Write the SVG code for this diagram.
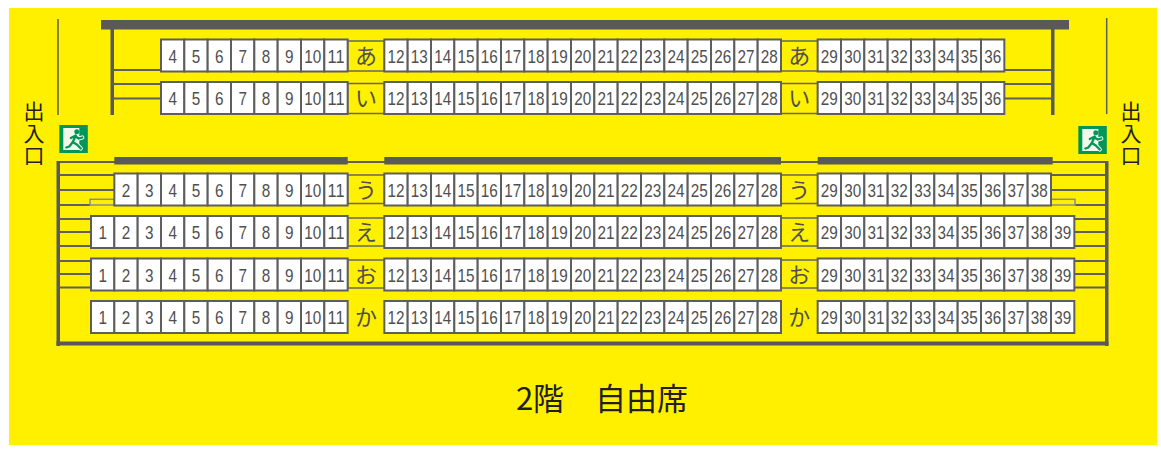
<svg xmlns="http://www.w3.org/2000/svg" xmlns:xlink="http://www.w3.org/1999/xlink" width="1161" height="450" viewBox="0 0 1161 450">
<defs>
<style>
.n{font-family:"Liberation Sans",Arial,sans-serif;font-size:19px;fill:#4f4f4f;text-anchor:middle}
.k{font-family:"Noto Sans CJK JP",sans-serif;font-size:22px;fill:#505050;text-anchor:middle}
.lb{fill:#fff100;stroke:#666;stroke-width:1.5}
.ln{stroke:#5e5e5e;stroke-width:2;fill:none}
.tl{stroke:#5e5e5e;stroke-width:1.5;fill:none}
.bar{fill:#595959}
.gb{fill:none;stroke:#8c8c8c;stroke-width:1.5}
.ex{font-family:"Noto Sans CJK JP",sans-serif;font-size:21px;fill:#231f20;writing-mode:vertical-rl;letter-spacing:1px}
.title{font-family:"Noto Sans CJK JP",sans-serif;font-size:31px;fill:#231f20;text-anchor:middle}
</style>
<rect id="st" width="23.33" height="32" fill="#fff" stroke="#5e5e5e" stroke-width="2"/>
<g id="exit">
<rect width="28.5" height="28" fill="#00965a"/>
<rect x="4" y="3" width="16" height="22" fill="#f2f9ea"/>
<g stroke="#f2f9ea" stroke-width="4.2" fill="none" stroke-linecap="round" stroke-linejoin="round">
<path d="M16.5 10.5 L13.5 17 L10 21.5 L7 22.5 M13.5 17 L17.5 19.5 L21.5 23.5 M11.5 13 L15.5 11 L19.5 13.5 L23 12.5"/>
</g>
<g stroke="#00965a" stroke-width="2.3" fill="none" stroke-linecap="round" stroke-linejoin="round">
<path d="M16.5 10.5 L13.5 17 L10 21.5 L7 22.5 M13.5 17 L17.5 19.5 L21.5 23.5 M11.5 13 L15.5 11 L19.5 13.5 L23 12.5"/>
</g>
<circle cx="17.5" cy="6.8" r="2.5" fill="#00965a"/>
</g>
</defs>

<rect x="9" y="8" width="1148" height="437" fill="#fff000"/>

<g id="structure">
<!-- upper section -->
<rect class="bar" x="101" y="20" width="968" height="9.5"/>
<rect class="bar" x="110.5" y="29" width="3.5" height="86"/>
<rect class="bar" x="1051" y="29" width="3.5" height="86"/>
<path class="ln" d="M112 70 H161 M112 84 H161 M112 98.5 H161 M1004.3 70 H1052.7 M1004.3 84 H1052.7 M1004.3 98.5 H1052.7"/>
<path class="tl" d="M58 19 V115 M1106.7 18 V114"/>
<!-- lower section frame -->
<path class="ln" d="M58 162 H1106.7"/>
<rect class="bar" x="56.5" y="161" width="3.5" height="185"/>
<rect class="bar" x="1105" y="161" width="3.5" height="185"/>
<rect class="bar" x="56.5" y="341.5" width="1052" height="4"/>
<rect class="bar" x="114.3" y="157" width="233.4" height="7.5"/>
<rect class="bar" x="384.3" y="157" width="396.7" height="7.5"/>
<rect class="bar" x="817.7" y="157" width="235" height="7.5"/>
<path class="ln" d="M58 175 H114.3 M58 190 H114.3 M58 205 H90 M58 219 H91 M58 232 H91 M58 246 H91 M58 261 H91 M58 274 H91 M58 287.5 H91"/>
<path class="ln" d="M1051 175 H1106.7 M1051 190 H1106.7 M1075 205 H1106.7 M1074.3 219 H1106.7 M1074.3 232 H1106.7 M1074.3 246 H1106.7 M1074.3 261 H1106.7 M1074.3 274 H1106.7 M1074.3 287.5 H1106.7"/>
<rect class="gb" x="90" y="199.3" width="24.3" height="5.7"/>
<rect class="gb" x="1051" y="199.3" width="24" height="5.7"/>
</g>

<g id="entrance-left">
<use xlink:href="#exit" href="#exit" x="59.3" y="125"/>
<text class="ex" x="34" y="101">出入口</text>
</g>
<g id="entrance-right">
<use xlink:href="#exit" href="#exit" x="1078.3" y="126"/>
<text class="ex" x="1131" y="101">出入口</text>
</g>

<g id="row-a">
<rect class="lb" x="347.67" y="41" width="36.67" height="30"/>
<rect class="lb" x="781" y="41" width="36.67" height="30"/>
<text class="k" x="366" y="63.5">あ</text>
<text class="k" x="799.33" y="63.5">あ</text>
<use href="#st" x="161" y="39.5"/><use href="#st" x="184.33" y="39.5"/><use href="#st" x="207.67" y="39.5"/><use href="#st" x="231" y="39.5"/><use href="#st" x="254.33" y="39.5"/><use href="#st" x="277.67" y="39.5"/><use href="#st" x="301" y="39.5"/><use href="#st" x="324.33" y="39.5"/>
<use href="#st" x="384.33" y="39.5"/><use href="#st" x="407.67" y="39.5"/><use href="#st" x="431" y="39.5"/><use href="#st" x="454.33" y="39.5"/><use href="#st" x="477.67" y="39.5"/><use href="#st" x="501" y="39.5"/><use href="#st" x="524.33" y="39.5"/><use href="#st" x="547.67" y="39.5"/><use href="#st" x="571" y="39.5"/><use href="#st" x="594.33" y="39.5"/><use href="#st" x="617.67" y="39.5"/><use href="#st" x="641" y="39.5"/><use href="#st" x="664.33" y="39.5"/><use href="#st" x="687.67" y="39.5"/><use href="#st" x="711" y="39.5"/><use href="#st" x="734.33" y="39.5"/><use href="#st" x="757.67" y="39.5"/>
<use href="#st" x="817.67" y="39.5"/><use href="#st" x="841" y="39.5"/><use href="#st" x="864.33" y="39.5"/><use href="#st" x="887.67" y="39.5"/><use href="#st" x="911" y="39.5"/><use href="#st" x="934.33" y="39.5"/><use href="#st" x="957.67" y="39.5"/><use href="#st" x="981" y="39.5"/>
<text class="n" x="172.67" y="62.5" textLength="8.5" lengthAdjust="spacingAndGlyphs">4</text>
<text class="n" x="196" y="62.5" textLength="8.5" lengthAdjust="spacingAndGlyphs">5</text>
<text class="n" x="219.33" y="62.5" textLength="8.5" lengthAdjust="spacingAndGlyphs">6</text>
<text class="n" x="242.67" y="62.5" textLength="8.5" lengthAdjust="spacingAndGlyphs">7</text>
<text class="n" x="266" y="62.5" textLength="8.5" lengthAdjust="spacingAndGlyphs">8</text>
<text class="n" x="289.33" y="62.5" textLength="8.5" lengthAdjust="spacingAndGlyphs">9</text>
<text class="n" x="312.67" y="62.5" textLength="17" lengthAdjust="spacingAndGlyphs">10</text>
<text class="n" x="336" y="62.5" textLength="17" lengthAdjust="spacingAndGlyphs">11</text>
<text class="n" x="396" y="62.5" textLength="17" lengthAdjust="spacingAndGlyphs">12</text>
<text class="n" x="419.33" y="62.5" textLength="17" lengthAdjust="spacingAndGlyphs">13</text>
<text class="n" x="442.67" y="62.5" textLength="17" lengthAdjust="spacingAndGlyphs">14</text>
<text class="n" x="466" y="62.5" textLength="17" lengthAdjust="spacingAndGlyphs">15</text>
<text class="n" x="489.33" y="62.5" textLength="17" lengthAdjust="spacingAndGlyphs">16</text>
<text class="n" x="512.67" y="62.5" textLength="17" lengthAdjust="spacingAndGlyphs">17</text>
<text class="n" x="536" y="62.5" textLength="17" lengthAdjust="spacingAndGlyphs">18</text>
<text class="n" x="559.33" y="62.5" textLength="17" lengthAdjust="spacingAndGlyphs">19</text>
<text class="n" x="582.67" y="62.5" textLength="17" lengthAdjust="spacingAndGlyphs">20</text>
<text class="n" x="606" y="62.5" textLength="17" lengthAdjust="spacingAndGlyphs">21</text>
<text class="n" x="629.33" y="62.5" textLength="17" lengthAdjust="spacingAndGlyphs">22</text>
<text class="n" x="652.67" y="62.5" textLength="17" lengthAdjust="spacingAndGlyphs">23</text>
<text class="n" x="676" y="62.5" textLength="17" lengthAdjust="spacingAndGlyphs">24</text>
<text class="n" x="699.33" y="62.5" textLength="17" lengthAdjust="spacingAndGlyphs">25</text>
<text class="n" x="722.67" y="62.5" textLength="17" lengthAdjust="spacingAndGlyphs">26</text>
<text class="n" x="746" y="62.5" textLength="17" lengthAdjust="spacingAndGlyphs">27</text>
<text class="n" x="769.33" y="62.5" textLength="17" lengthAdjust="spacingAndGlyphs">28</text>
<text class="n" x="829.33" y="62.5" textLength="17" lengthAdjust="spacingAndGlyphs">29</text>
<text class="n" x="852.67" y="62.5" textLength="17" lengthAdjust="spacingAndGlyphs">30</text>
<text class="n" x="876" y="62.5" textLength="17" lengthAdjust="spacingAndGlyphs">31</text>
<text class="n" x="899.33" y="62.5" textLength="17" lengthAdjust="spacingAndGlyphs">32</text>
<text class="n" x="922.67" y="62.5" textLength="17" lengthAdjust="spacingAndGlyphs">33</text>
<text class="n" x="946" y="62.5" textLength="17" lengthAdjust="spacingAndGlyphs">34</text>
<text class="n" x="969.33" y="62.5" textLength="17" lengthAdjust="spacingAndGlyphs">35</text>
<text class="n" x="992.67" y="62.5" textLength="17" lengthAdjust="spacingAndGlyphs">36</text>
</g>

<g id="row-i">
<rect class="lb" x="347.67" y="83.5" width="36.67" height="30"/>
<rect class="lb" x="781" y="83.5" width="36.67" height="30"/>
<text class="k" x="366" y="106">い</text>
<text class="k" x="799.33" y="106">い</text>
<use href="#st" x="161" y="82"/><use href="#st" x="184.33" y="82"/><use href="#st" x="207.67" y="82"/><use href="#st" x="231" y="82"/><use href="#st" x="254.33" y="82"/><use href="#st" x="277.67" y="82"/><use href="#st" x="301" y="82"/><use href="#st" x="324.33" y="82"/>
<use href="#st" x="384.33" y="82"/><use href="#st" x="407.67" y="82"/><use href="#st" x="431" y="82"/><use href="#st" x="454.33" y="82"/><use href="#st" x="477.67" y="82"/><use href="#st" x="501" y="82"/><use href="#st" x="524.33" y="82"/><use href="#st" x="547.67" y="82"/><use href="#st" x="571" y="82"/><use href="#st" x="594.33" y="82"/><use href="#st" x="617.67" y="82"/><use href="#st" x="641" y="82"/><use href="#st" x="664.33" y="82"/><use href="#st" x="687.67" y="82"/><use href="#st" x="711" y="82"/><use href="#st" x="734.33" y="82"/><use href="#st" x="757.67" y="82"/>
<use href="#st" x="817.67" y="82"/><use href="#st" x="841" y="82"/><use href="#st" x="864.33" y="82"/><use href="#st" x="887.67" y="82"/><use href="#st" x="911" y="82"/><use href="#st" x="934.33" y="82"/><use href="#st" x="957.67" y="82"/><use href="#st" x="981" y="82"/>
<text class="n" x="172.67" y="105" textLength="8.5" lengthAdjust="spacingAndGlyphs">4</text>
<text class="n" x="196" y="105" textLength="8.5" lengthAdjust="spacingAndGlyphs">5</text>
<text class="n" x="219.33" y="105" textLength="8.5" lengthAdjust="spacingAndGlyphs">6</text>
<text class="n" x="242.67" y="105" textLength="8.5" lengthAdjust="spacingAndGlyphs">7</text>
<text class="n" x="266" y="105" textLength="8.5" lengthAdjust="spacingAndGlyphs">8</text>
<text class="n" x="289.33" y="105" textLength="8.5" lengthAdjust="spacingAndGlyphs">9</text>
<text class="n" x="312.67" y="105" textLength="17" lengthAdjust="spacingAndGlyphs">10</text>
<text class="n" x="336" y="105" textLength="17" lengthAdjust="spacingAndGlyphs">11</text>
<text class="n" x="396" y="105" textLength="17" lengthAdjust="spacingAndGlyphs">12</text>
<text class="n" x="419.33" y="105" textLength="17" lengthAdjust="spacingAndGlyphs">13</text>
<text class="n" x="442.67" y="105" textLength="17" lengthAdjust="spacingAndGlyphs">14</text>
<text class="n" x="466" y="105" textLength="17" lengthAdjust="spacingAndGlyphs">15</text>
<text class="n" x="489.33" y="105" textLength="17" lengthAdjust="spacingAndGlyphs">16</text>
<text class="n" x="512.67" y="105" textLength="17" lengthAdjust="spacingAndGlyphs">17</text>
<text class="n" x="536" y="105" textLength="17" lengthAdjust="spacingAndGlyphs">18</text>
<text class="n" x="559.33" y="105" textLength="17" lengthAdjust="spacingAndGlyphs">19</text>
<text class="n" x="582.67" y="105" textLength="17" lengthAdjust="spacingAndGlyphs">20</text>
<text class="n" x="606" y="105" textLength="17" lengthAdjust="spacingAndGlyphs">21</text>
<text class="n" x="629.33" y="105" textLength="17" lengthAdjust="spacingAndGlyphs">22</text>
<text class="n" x="652.67" y="105" textLength="17" lengthAdjust="spacingAndGlyphs">23</text>
<text class="n" x="676" y="105" textLength="17" lengthAdjust="spacingAndGlyphs">24</text>
<text class="n" x="699.33" y="105" textLength="17" lengthAdjust="spacingAndGlyphs">25</text>
<text class="n" x="722.67" y="105" textLength="17" lengthAdjust="spacingAndGlyphs">26</text>
<text class="n" x="746" y="105" textLength="17" lengthAdjust="spacingAndGlyphs">27</text>
<text class="n" x="769.33" y="105" textLength="17" lengthAdjust="spacingAndGlyphs">28</text>
<text class="n" x="829.33" y="105" textLength="17" lengthAdjust="spacingAndGlyphs">29</text>
<text class="n" x="852.67" y="105" textLength="17" lengthAdjust="spacingAndGlyphs">30</text>
<text class="n" x="876" y="105" textLength="17" lengthAdjust="spacingAndGlyphs">31</text>
<text class="n" x="899.33" y="105" textLength="17" lengthAdjust="spacingAndGlyphs">32</text>
<text class="n" x="922.67" y="105" textLength="17" lengthAdjust="spacingAndGlyphs">33</text>
<text class="n" x="946" y="105" textLength="17" lengthAdjust="spacingAndGlyphs">34</text>
<text class="n" x="969.33" y="105" textLength="17" lengthAdjust="spacingAndGlyphs">35</text>
<text class="n" x="992.67" y="105" textLength="17" lengthAdjust="spacingAndGlyphs">36</text>
</g>

<g id="row-u">
<rect class="lb" x="347.67" y="175" width="36.67" height="28.5"/>
<rect class="lb" x="781" y="175" width="36.67" height="28.5"/>
<text class="k" x="366" y="197.5">う</text>
<text class="k" x="799.33" y="197.5">う</text>
<use href="#st" x="114.33" y="173.5"/><use href="#st" x="137.67" y="173.5"/><use href="#st" x="161" y="173.5"/><use href="#st" x="184.33" y="173.5"/><use href="#st" x="207.67" y="173.5"/><use href="#st" x="231" y="173.5"/><use href="#st" x="254.33" y="173.5"/><use href="#st" x="277.67" y="173.5"/><use href="#st" x="301" y="173.5"/><use href="#st" x="324.33" y="173.5"/>
<use href="#st" x="384.33" y="173.5"/><use href="#st" x="407.67" y="173.5"/><use href="#st" x="431" y="173.5"/><use href="#st" x="454.33" y="173.5"/><use href="#st" x="477.67" y="173.5"/><use href="#st" x="501" y="173.5"/><use href="#st" x="524.33" y="173.5"/><use href="#st" x="547.67" y="173.5"/><use href="#st" x="571" y="173.5"/><use href="#st" x="594.33" y="173.5"/><use href="#st" x="617.67" y="173.5"/><use href="#st" x="641" y="173.5"/><use href="#st" x="664.33" y="173.5"/><use href="#st" x="687.67" y="173.5"/><use href="#st" x="711" y="173.5"/><use href="#st" x="734.33" y="173.5"/><use href="#st" x="757.67" y="173.5"/>
<use href="#st" x="817.67" y="173.5"/><use href="#st" x="841" y="173.5"/><use href="#st" x="864.33" y="173.5"/><use href="#st" x="887.67" y="173.5"/><use href="#st" x="911" y="173.5"/><use href="#st" x="934.33" y="173.5"/><use href="#st" x="957.67" y="173.5"/><use href="#st" x="981" y="173.5"/><use href="#st" x="1004.33" y="173.5"/><use href="#st" x="1027.67" y="173.5"/>
<text class="n" x="126" y="196.5" textLength="8.5" lengthAdjust="spacingAndGlyphs">2</text>
<text class="n" x="149.33" y="196.5" textLength="8.5" lengthAdjust="spacingAndGlyphs">3</text>
<text class="n" x="172.67" y="196.5" textLength="8.5" lengthAdjust="spacingAndGlyphs">4</text>
<text class="n" x="196" y="196.5" textLength="8.5" lengthAdjust="spacingAndGlyphs">5</text>
<text class="n" x="219.33" y="196.5" textLength="8.5" lengthAdjust="spacingAndGlyphs">6</text>
<text class="n" x="242.67" y="196.5" textLength="8.5" lengthAdjust="spacingAndGlyphs">7</text>
<text class="n" x="266" y="196.5" textLength="8.5" lengthAdjust="spacingAndGlyphs">8</text>
<text class="n" x="289.33" y="196.5" textLength="8.5" lengthAdjust="spacingAndGlyphs">9</text>
<text class="n" x="312.67" y="196.5" textLength="17" lengthAdjust="spacingAndGlyphs">10</text>
<text class="n" x="336" y="196.5" textLength="17" lengthAdjust="spacingAndGlyphs">11</text>
<text class="n" x="396" y="196.5" textLength="17" lengthAdjust="spacingAndGlyphs">12</text>
<text class="n" x="419.33" y="196.5" textLength="17" lengthAdjust="spacingAndGlyphs">13</text>
<text class="n" x="442.67" y="196.5" textLength="17" lengthAdjust="spacingAndGlyphs">14</text>
<text class="n" x="466" y="196.5" textLength="17" lengthAdjust="spacingAndGlyphs">15</text>
<text class="n" x="489.33" y="196.5" textLength="17" lengthAdjust="spacingAndGlyphs">16</text>
<text class="n" x="512.67" y="196.5" textLength="17" lengthAdjust="spacingAndGlyphs">17</text>
<text class="n" x="536" y="196.5" textLength="17" lengthAdjust="spacingAndGlyphs">18</text>
<text class="n" x="559.33" y="196.5" textLength="17" lengthAdjust="spacingAndGlyphs">19</text>
<text class="n" x="582.67" y="196.5" textLength="17" lengthAdjust="spacingAndGlyphs">20</text>
<text class="n" x="606" y="196.5" textLength="17" lengthAdjust="spacingAndGlyphs">21</text>
<text class="n" x="629.33" y="196.5" textLength="17" lengthAdjust="spacingAndGlyphs">22</text>
<text class="n" x="652.67" y="196.5" textLength="17" lengthAdjust="spacingAndGlyphs">23</text>
<text class="n" x="676" y="196.5" textLength="17" lengthAdjust="spacingAndGlyphs">24</text>
<text class="n" x="699.33" y="196.5" textLength="17" lengthAdjust="spacingAndGlyphs">25</text>
<text class="n" x="722.67" y="196.5" textLength="17" lengthAdjust="spacingAndGlyphs">26</text>
<text class="n" x="746" y="196.5" textLength="17" lengthAdjust="spacingAndGlyphs">27</text>
<text class="n" x="769.33" y="196.5" textLength="17" lengthAdjust="spacingAndGlyphs">28</text>
<text class="n" x="829.33" y="196.5" textLength="17" lengthAdjust="spacingAndGlyphs">29</text>
<text class="n" x="852.67" y="196.5" textLength="17" lengthAdjust="spacingAndGlyphs">30</text>
<text class="n" x="876" y="196.5" textLength="17" lengthAdjust="spacingAndGlyphs">31</text>
<text class="n" x="899.33" y="196.5" textLength="17" lengthAdjust="spacingAndGlyphs">32</text>
<text class="n" x="922.67" y="196.5" textLength="17" lengthAdjust="spacingAndGlyphs">33</text>
<text class="n" x="946" y="196.5" textLength="17" lengthAdjust="spacingAndGlyphs">34</text>
<text class="n" x="969.33" y="196.5" textLength="17" lengthAdjust="spacingAndGlyphs">35</text>
<text class="n" x="992.67" y="196.5" textLength="17" lengthAdjust="spacingAndGlyphs">36</text>
<text class="n" x="1016" y="196.5" textLength="17" lengthAdjust="spacingAndGlyphs">37</text>
<text class="n" x="1039.33" y="196.5" textLength="17" lengthAdjust="spacingAndGlyphs">38</text>
</g>

<g id="row-e">
<rect class="lb" x="347.67" y="218" width="36.67" height="28"/>
<rect class="lb" x="781" y="218" width="36.67" height="28"/>
<text class="k" x="366" y="240">え</text>
<text class="k" x="799.33" y="240">え</text>
<use href="#st" x="91" y="216"/><use href="#st" x="114.33" y="216"/><use href="#st" x="137.67" y="216"/><use href="#st" x="161" y="216"/><use href="#st" x="184.33" y="216"/><use href="#st" x="207.67" y="216"/><use href="#st" x="231" y="216"/><use href="#st" x="254.33" y="216"/><use href="#st" x="277.67" y="216"/><use href="#st" x="301" y="216"/><use href="#st" x="324.33" y="216"/>
<use href="#st" x="384.33" y="216"/><use href="#st" x="407.67" y="216"/><use href="#st" x="431" y="216"/><use href="#st" x="454.33" y="216"/><use href="#st" x="477.67" y="216"/><use href="#st" x="501" y="216"/><use href="#st" x="524.33" y="216"/><use href="#st" x="547.67" y="216"/><use href="#st" x="571" y="216"/><use href="#st" x="594.33" y="216"/><use href="#st" x="617.67" y="216"/><use href="#st" x="641" y="216"/><use href="#st" x="664.33" y="216"/><use href="#st" x="687.67" y="216"/><use href="#st" x="711" y="216"/><use href="#st" x="734.33" y="216"/><use href="#st" x="757.67" y="216"/>
<use href="#st" x="817.67" y="216"/><use href="#st" x="841" y="216"/><use href="#st" x="864.33" y="216"/><use href="#st" x="887.67" y="216"/><use href="#st" x="911" y="216"/><use href="#st" x="934.33" y="216"/><use href="#st" x="957.67" y="216"/><use href="#st" x="981" y="216"/><use href="#st" x="1004.33" y="216"/><use href="#st" x="1027.67" y="216"/><use href="#st" x="1051" y="216"/>
<text class="n" x="102.67" y="239" textLength="8.5" lengthAdjust="spacingAndGlyphs">1</text>
<text class="n" x="126" y="239" textLength="8.5" lengthAdjust="spacingAndGlyphs">2</text>
<text class="n" x="149.33" y="239" textLength="8.5" lengthAdjust="spacingAndGlyphs">3</text>
<text class="n" x="172.67" y="239" textLength="8.5" lengthAdjust="spacingAndGlyphs">4</text>
<text class="n" x="196" y="239" textLength="8.5" lengthAdjust="spacingAndGlyphs">5</text>
<text class="n" x="219.33" y="239" textLength="8.5" lengthAdjust="spacingAndGlyphs">6</text>
<text class="n" x="242.67" y="239" textLength="8.5" lengthAdjust="spacingAndGlyphs">7</text>
<text class="n" x="266" y="239" textLength="8.5" lengthAdjust="spacingAndGlyphs">8</text>
<text class="n" x="289.33" y="239" textLength="8.5" lengthAdjust="spacingAndGlyphs">9</text>
<text class="n" x="312.67" y="239" textLength="17" lengthAdjust="spacingAndGlyphs">10</text>
<text class="n" x="336" y="239" textLength="17" lengthAdjust="spacingAndGlyphs">11</text>
<text class="n" x="396" y="239" textLength="17" lengthAdjust="spacingAndGlyphs">12</text>
<text class="n" x="419.33" y="239" textLength="17" lengthAdjust="spacingAndGlyphs">13</text>
<text class="n" x="442.67" y="239" textLength="17" lengthAdjust="spacingAndGlyphs">14</text>
<text class="n" x="466" y="239" textLength="17" lengthAdjust="spacingAndGlyphs">15</text>
<text class="n" x="489.33" y="239" textLength="17" lengthAdjust="spacingAndGlyphs">16</text>
<text class="n" x="512.67" y="239" textLength="17" lengthAdjust="spacingAndGlyphs">17</text>
<text class="n" x="536" y="239" textLength="17" lengthAdjust="spacingAndGlyphs">18</text>
<text class="n" x="559.33" y="239" textLength="17" lengthAdjust="spacingAndGlyphs">19</text>
<text class="n" x="582.67" y="239" textLength="17" lengthAdjust="spacingAndGlyphs">20</text>
<text class="n" x="606" y="239" textLength="17" lengthAdjust="spacingAndGlyphs">21</text>
<text class="n" x="629.33" y="239" textLength="17" lengthAdjust="spacingAndGlyphs">22</text>
<text class="n" x="652.67" y="239" textLength="17" lengthAdjust="spacingAndGlyphs">23</text>
<text class="n" x="676" y="239" textLength="17" lengthAdjust="spacingAndGlyphs">24</text>
<text class="n" x="699.33" y="239" textLength="17" lengthAdjust="spacingAndGlyphs">25</text>
<text class="n" x="722.67" y="239" textLength="17" lengthAdjust="spacingAndGlyphs">26</text>
<text class="n" x="746" y="239" textLength="17" lengthAdjust="spacingAndGlyphs">27</text>
<text class="n" x="769.33" y="239" textLength="17" lengthAdjust="spacingAndGlyphs">28</text>
<text class="n" x="829.33" y="239" textLength="17" lengthAdjust="spacingAndGlyphs">29</text>
<text class="n" x="852.67" y="239" textLength="17" lengthAdjust="spacingAndGlyphs">30</text>
<text class="n" x="876" y="239" textLength="17" lengthAdjust="spacingAndGlyphs">31</text>
<text class="n" x="899.33" y="239" textLength="17" lengthAdjust="spacingAndGlyphs">32</text>
<text class="n" x="922.67" y="239" textLength="17" lengthAdjust="spacingAndGlyphs">33</text>
<text class="n" x="946" y="239" textLength="17" lengthAdjust="spacingAndGlyphs">34</text>
<text class="n" x="969.33" y="239" textLength="17" lengthAdjust="spacingAndGlyphs">35</text>
<text class="n" x="992.67" y="239" textLength="17" lengthAdjust="spacingAndGlyphs">36</text>
<text class="n" x="1016" y="239" textLength="17" lengthAdjust="spacingAndGlyphs">37</text>
<text class="n" x="1039.33" y="239" textLength="17" lengthAdjust="spacingAndGlyphs">38</text>
<text class="n" x="1062.67" y="239" textLength="17" lengthAdjust="spacingAndGlyphs">39</text>
</g>

<g id="row-o">
<rect class="lb" x="347.67" y="260" width="36.67" height="28"/>
<rect class="lb" x="781" y="260" width="36.67" height="28"/>
<text class="k" x="366" y="282.5">お</text>
<text class="k" x="799.33" y="282.5">お</text>
<use href="#st" x="91" y="258.5"/><use href="#st" x="114.33" y="258.5"/><use href="#st" x="137.67" y="258.5"/><use href="#st" x="161" y="258.5"/><use href="#st" x="184.33" y="258.5"/><use href="#st" x="207.67" y="258.5"/><use href="#st" x="231" y="258.5"/><use href="#st" x="254.33" y="258.5"/><use href="#st" x="277.67" y="258.5"/><use href="#st" x="301" y="258.5"/><use href="#st" x="324.33" y="258.5"/>
<use href="#st" x="384.33" y="258.5"/><use href="#st" x="407.67" y="258.5"/><use href="#st" x="431" y="258.5"/><use href="#st" x="454.33" y="258.5"/><use href="#st" x="477.67" y="258.5"/><use href="#st" x="501" y="258.5"/><use href="#st" x="524.33" y="258.5"/><use href="#st" x="547.67" y="258.5"/><use href="#st" x="571" y="258.5"/><use href="#st" x="594.33" y="258.5"/><use href="#st" x="617.67" y="258.5"/><use href="#st" x="641" y="258.5"/><use href="#st" x="664.33" y="258.5"/><use href="#st" x="687.67" y="258.5"/><use href="#st" x="711" y="258.5"/><use href="#st" x="734.33" y="258.5"/><use href="#st" x="757.67" y="258.5"/>
<use href="#st" x="817.67" y="258.5"/><use href="#st" x="841" y="258.5"/><use href="#st" x="864.33" y="258.5"/><use href="#st" x="887.67" y="258.5"/><use href="#st" x="911" y="258.5"/><use href="#st" x="934.33" y="258.5"/><use href="#st" x="957.67" y="258.5"/><use href="#st" x="981" y="258.5"/><use href="#st" x="1004.33" y="258.5"/><use href="#st" x="1027.67" y="258.5"/><use href="#st" x="1051" y="258.5"/>
<text class="n" x="102.67" y="281.5" textLength="8.5" lengthAdjust="spacingAndGlyphs">1</text>
<text class="n" x="126" y="281.5" textLength="8.5" lengthAdjust="spacingAndGlyphs">2</text>
<text class="n" x="149.33" y="281.5" textLength="8.5" lengthAdjust="spacingAndGlyphs">3</text>
<text class="n" x="172.67" y="281.5" textLength="8.5" lengthAdjust="spacingAndGlyphs">4</text>
<text class="n" x="196" y="281.5" textLength="8.5" lengthAdjust="spacingAndGlyphs">5</text>
<text class="n" x="219.33" y="281.5" textLength="8.5" lengthAdjust="spacingAndGlyphs">6</text>
<text class="n" x="242.67" y="281.5" textLength="8.5" lengthAdjust="spacingAndGlyphs">7</text>
<text class="n" x="266" y="281.5" textLength="8.5" lengthAdjust="spacingAndGlyphs">8</text>
<text class="n" x="289.33" y="281.5" textLength="8.5" lengthAdjust="spacingAndGlyphs">9</text>
<text class="n" x="312.67" y="281.5" textLength="17" lengthAdjust="spacingAndGlyphs">10</text>
<text class="n" x="336" y="281.5" textLength="17" lengthAdjust="spacingAndGlyphs">11</text>
<text class="n" x="396" y="281.5" textLength="17" lengthAdjust="spacingAndGlyphs">12</text>
<text class="n" x="419.33" y="281.5" textLength="17" lengthAdjust="spacingAndGlyphs">13</text>
<text class="n" x="442.67" y="281.5" textLength="17" lengthAdjust="spacingAndGlyphs">14</text>
<text class="n" x="466" y="281.5" textLength="17" lengthAdjust="spacingAndGlyphs">15</text>
<text class="n" x="489.33" y="281.5" textLength="17" lengthAdjust="spacingAndGlyphs">16</text>
<text class="n" x="512.67" y="281.5" textLength="17" lengthAdjust="spacingAndGlyphs">17</text>
<text class="n" x="536" y="281.5" textLength="17" lengthAdjust="spacingAndGlyphs">18</text>
<text class="n" x="559.33" y="281.5" textLength="17" lengthAdjust="spacingAndGlyphs">19</text>
<text class="n" x="582.67" y="281.5" textLength="17" lengthAdjust="spacingAndGlyphs">20</text>
<text class="n" x="606" y="281.5" textLength="17" lengthAdjust="spacingAndGlyphs">21</text>
<text class="n" x="629.33" y="281.5" textLength="17" lengthAdjust="spacingAndGlyphs">22</text>
<text class="n" x="652.67" y="281.5" textLength="17" lengthAdjust="spacingAndGlyphs">23</text>
<text class="n" x="676" y="281.5" textLength="17" lengthAdjust="spacingAndGlyphs">24</text>
<text class="n" x="699.33" y="281.5" textLength="17" lengthAdjust="spacingAndGlyphs">25</text>
<text class="n" x="722.67" y="281.5" textLength="17" lengthAdjust="spacingAndGlyphs">26</text>
<text class="n" x="746" y="281.5" textLength="17" lengthAdjust="spacingAndGlyphs">27</text>
<text class="n" x="769.33" y="281.5" textLength="17" lengthAdjust="spacingAndGlyphs">28</text>
<text class="n" x="829.33" y="281.5" textLength="17" lengthAdjust="spacingAndGlyphs">29</text>
<text class="n" x="852.67" y="281.5" textLength="17" lengthAdjust="spacingAndGlyphs">30</text>
<text class="n" x="876" y="281.5" textLength="17" lengthAdjust="spacingAndGlyphs">31</text>
<text class="n" x="899.33" y="281.5" textLength="17" lengthAdjust="spacingAndGlyphs">32</text>
<text class="n" x="922.67" y="281.5" textLength="17" lengthAdjust="spacingAndGlyphs">33</text>
<text class="n" x="946" y="281.5" textLength="17" lengthAdjust="spacingAndGlyphs">34</text>
<text class="n" x="969.33" y="281.5" textLength="17" lengthAdjust="spacingAndGlyphs">35</text>
<text class="n" x="992.67" y="281.5" textLength="17" lengthAdjust="spacingAndGlyphs">36</text>
<text class="n" x="1016" y="281.5" textLength="17" lengthAdjust="spacingAndGlyphs">37</text>
<text class="n" x="1039.33" y="281.5" textLength="17" lengthAdjust="spacingAndGlyphs">38</text>
<text class="n" x="1062.67" y="281.5" textLength="17" lengthAdjust="spacingAndGlyphs">39</text>
</g>

<g id="row-ka">
<text class="k" x="366" y="325">か</text>
<text class="k" x="799.33" y="325">か</text>
<use href="#st" x="91" y="301"/><use href="#st" x="114.33" y="301"/><use href="#st" x="137.67" y="301"/><use href="#st" x="161" y="301"/><use href="#st" x="184.33" y="301"/><use href="#st" x="207.67" y="301"/><use href="#st" x="231" y="301"/><use href="#st" x="254.33" y="301"/><use href="#st" x="277.67" y="301"/><use href="#st" x="301" y="301"/><use href="#st" x="324.33" y="301"/>
<use href="#st" x="384.33" y="301"/><use href="#st" x="407.67" y="301"/><use href="#st" x="431" y="301"/><use href="#st" x="454.33" y="301"/><use href="#st" x="477.67" y="301"/><use href="#st" x="501" y="301"/><use href="#st" x="524.33" y="301"/><use href="#st" x="547.67" y="301"/><use href="#st" x="571" y="301"/><use href="#st" x="594.33" y="301"/><use href="#st" x="617.67" y="301"/><use href="#st" x="641" y="301"/><use href="#st" x="664.33" y="301"/><use href="#st" x="687.67" y="301"/><use href="#st" x="711" y="301"/><use href="#st" x="734.33" y="301"/><use href="#st" x="757.67" y="301"/>
<use href="#st" x="817.67" y="301"/><use href="#st" x="841" y="301"/><use href="#st" x="864.33" y="301"/><use href="#st" x="887.67" y="301"/><use href="#st" x="911" y="301"/><use href="#st" x="934.33" y="301"/><use href="#st" x="957.67" y="301"/><use href="#st" x="981" y="301"/><use href="#st" x="1004.33" y="301"/><use href="#st" x="1027.67" y="301"/><use href="#st" x="1051" y="301"/>
<text class="n" x="102.67" y="324" textLength="8.5" lengthAdjust="spacingAndGlyphs">1</text>
<text class="n" x="126" y="324" textLength="8.5" lengthAdjust="spacingAndGlyphs">2</text>
<text class="n" x="149.33" y="324" textLength="8.5" lengthAdjust="spacingAndGlyphs">3</text>
<text class="n" x="172.67" y="324" textLength="8.5" lengthAdjust="spacingAndGlyphs">4</text>
<text class="n" x="196" y="324" textLength="8.5" lengthAdjust="spacingAndGlyphs">5</text>
<text class="n" x="219.33" y="324" textLength="8.5" lengthAdjust="spacingAndGlyphs">6</text>
<text class="n" x="242.67" y="324" textLength="8.5" lengthAdjust="spacingAndGlyphs">7</text>
<text class="n" x="266" y="324" textLength="8.5" lengthAdjust="spacingAndGlyphs">8</text>
<text class="n" x="289.33" y="324" textLength="8.5" lengthAdjust="spacingAndGlyphs">9</text>
<text class="n" x="312.67" y="324" textLength="17" lengthAdjust="spacingAndGlyphs">10</text>
<text class="n" x="336" y="324" textLength="17" lengthAdjust="spacingAndGlyphs">11</text>
<text class="n" x="396" y="324" textLength="17" lengthAdjust="spacingAndGlyphs">12</text>
<text class="n" x="419.33" y="324" textLength="17" lengthAdjust="spacingAndGlyphs">13</text>
<text class="n" x="442.67" y="324" textLength="17" lengthAdjust="spacingAndGlyphs">14</text>
<text class="n" x="466" y="324" textLength="17" lengthAdjust="spacingAndGlyphs">15</text>
<text class="n" x="489.33" y="324" textLength="17" lengthAdjust="spacingAndGlyphs">16</text>
<text class="n" x="512.67" y="324" textLength="17" lengthAdjust="spacingAndGlyphs">17</text>
<text class="n" x="536" y="324" textLength="17" lengthAdjust="spacingAndGlyphs">18</text>
<text class="n" x="559.33" y="324" textLength="17" lengthAdjust="spacingAndGlyphs">19</text>
<text class="n" x="582.67" y="324" textLength="17" lengthAdjust="spacingAndGlyphs">20</text>
<text class="n" x="606" y="324" textLength="17" lengthAdjust="spacingAndGlyphs">21</text>
<text class="n" x="629.33" y="324" textLength="17" lengthAdjust="spacingAndGlyphs">22</text>
<text class="n" x="652.67" y="324" textLength="17" lengthAdjust="spacingAndGlyphs">23</text>
<text class="n" x="676" y="324" textLength="17" lengthAdjust="spacingAndGlyphs">24</text>
<text class="n" x="699.33" y="324" textLength="17" lengthAdjust="spacingAndGlyphs">25</text>
<text class="n" x="722.67" y="324" textLength="17" lengthAdjust="spacingAndGlyphs">26</text>
<text class="n" x="746" y="324" textLength="17" lengthAdjust="spacingAndGlyphs">27</text>
<text class="n" x="769.33" y="324" textLength="17" lengthAdjust="spacingAndGlyphs">28</text>
<text class="n" x="829.33" y="324" textLength="17" lengthAdjust="spacingAndGlyphs">29</text>
<text class="n" x="852.67" y="324" textLength="17" lengthAdjust="spacingAndGlyphs">30</text>
<text class="n" x="876" y="324" textLength="17" lengthAdjust="spacingAndGlyphs">31</text>
<text class="n" x="899.33" y="324" textLength="17" lengthAdjust="spacingAndGlyphs">32</text>
<text class="n" x="922.67" y="324" textLength="17" lengthAdjust="spacingAndGlyphs">33</text>
<text class="n" x="946" y="324" textLength="17" lengthAdjust="spacingAndGlyphs">34</text>
<text class="n" x="969.33" y="324" textLength="17" lengthAdjust="spacingAndGlyphs">35</text>
<text class="n" x="992.67" y="324" textLength="17" lengthAdjust="spacingAndGlyphs">36</text>
<text class="n" x="1016" y="324" textLength="17" lengthAdjust="spacingAndGlyphs">37</text>
<text class="n" x="1039.33" y="324" textLength="17" lengthAdjust="spacingAndGlyphs">38</text>
<text class="n" x="1062.67" y="324" textLength="17" lengthAdjust="spacingAndGlyphs">39</text>
</g>

<g id="title">
<text class="title" x="602" y="410">2階　自由席</text>
</g>
</svg>
